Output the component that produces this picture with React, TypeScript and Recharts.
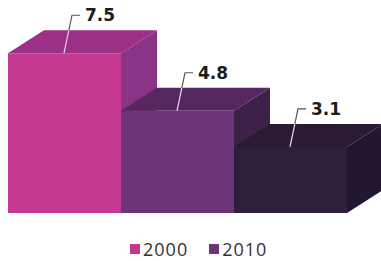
import { BarChart, Bar, XAxis, YAxis } from 'recharts'

const categories = ['2000', '2010', '2020']
const values = [7.5, 4.8, 3.1]
const legendLabels = ['2000', '2010']

const frontColors = ['#c4388f', '#6e3479', '#2d1f3a']
const topColors = ['#9c2f86', '#55265f', '#2a1b33']
const sideColors = ['#8a3488', '#3d2148', '#221630']

const data = categories.map((name, i) => ({ name, value: values[i] }))

// depth of the fake 3d extrusion
const DX = 36
const DY = -23

function Box3D(props: any) {
  const { x, y, width, height, payload } = props
  const i = categories.indexOf(payload.name)
  const bottom = y + height
  const r = x + width
  return (
    <g>
      <polygon
        points={`${r},${y} ${r + DX},${y + DY} ${r + DX},${bottom + DY} ${r},${bottom}`}
        fill={sideColors[i]}
      />
      <polygon
        points={`${x},${y} ${x + DX},${y + DY} ${r + DX},${y + DY} ${r},${y}`}
        fill={topColors[i]}
      />
      <rect x={x} y={y} width={width} height={height} fill={frontColors[i]} />
    </g>
  )
}

function LeaderLabel(props: any) {
  const { x, y, value } = props
  const x0 = x + 56
  const y0 = y
  const x1 = x + 64
  const y1 = y - 38
  // part of the leader that sits over the top face is drawn light
  const t = (y + DY - y1) / (y0 - y1)
  const xm = x1 + (x0 - x1) * t
  const ym = y + DY
  return (
    <g>
      <line x1={x0} y1={y0} x2={xm} y2={ym} stroke="#f0d8ee" strokeWidth={1.2} />
      <polyline points={`${xm},${ym} ${x1},${y1} ${x + 72},${y1}`} fill="none" stroke="#555" strokeWidth={1.2} />
      <text
        x={x + 77}
        y={y1}
        dy="0.36em"
        fontFamily="DejaVu Sans"
        fontWeight={900}
        fontSize={17}
        fill="#1c1c1c"
      >
        {value}
      </text>
    </g>
  )
}

export default function App() {
  return (
    <div style={{ position: 'absolute', left: 0, top: 0, width: 381, height: 261, background: '#fff' }}>
      <BarChart
        width={381}
        height={261}
        data={data}
        margin={{ top: 0, right: 34, left: 8, bottom: 48 }}
        barCategoryGap={0}
        barGap={0}
      >
        <XAxis dataKey="name" hide />
        <YAxis hide domain={[0, 10]} />
        <Bar dataKey="value" shape={Box3D} label={LeaderLabel} isAnimationActive={false} />
      </BarChart>
      <div
        style={{
          position: 'absolute',
          left: 130,
          top: 240,
          display: 'flex',
          alignItems: 'center',
          fontFamily: '"Open Sans"',
          fontSize: 18,
          lineHeight: '18px',
          letterSpacing: 1,
          color: '#333',
        }}
      >
        {legendLabels.map((label, i) => (
          <div key={label} style={{ display: 'flex', alignItems: 'center', marginRight: 21 }}>
            <span style={{ width: 10, height: 10, background: frontColors[i], marginRight: 3 }} />
            <span>{label}</span>
          </div>
        ))}
      </div>
    </div>
  )
}
